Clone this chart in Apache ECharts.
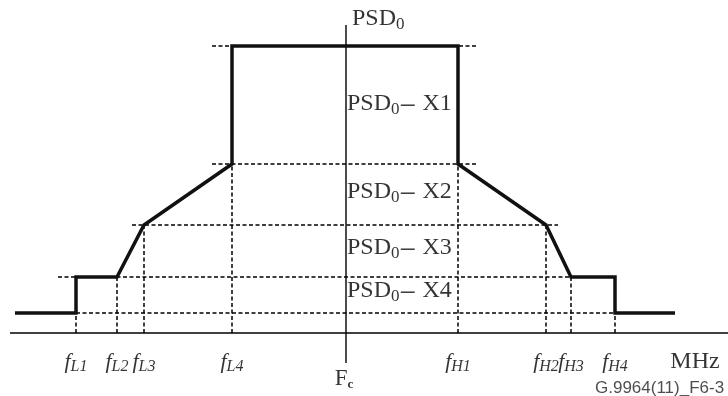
<!DOCTYPE html>
<html>
<head>
<meta charset="utf-8">
<script src="https://cdn.jsdelivr.net/npm/echarts@6/dist/echarts.min.js"></script>
<style>
html,body{margin:0;padding:0;background:#fff;}
#chart{width:728px;height:396px;}
</style>
</head>
<body>
<div id="chart"></div>
<script>
// frequencies relative to Fc, levels above the baseline (diagram units)
var freqNames = ['L1','L2','L3','L4','H1','H2','H3','H4'];
var freqs = [-270,-229,-202,-114,112,200,225,269];
var freqLevels = [20,56,108,169,169,108,56,20];

// PSD mask outline
var maskFreq = [-331,-270,-270,-229,-202,-114,-114,112,112,200,225,269,269,329];
var maskLevel = [20,20,56,56,108,169,287,287,169,108,56,56,20,20];

// dotted guide levels
var guideLevel = [287,169,108,56,20];
var guideFrom = [-134,-134,-214,-288,-270];
var guideTo = [132,132,212,226,268];

// band labels
var bandNames = ['X1','X2','X3','X4'];
var bandLevel = [228,140,84,41];

var serif = '"Liberation Serif", "DejaVu Serif", serif';

function pts(xs, ys){
	var out = [];
	for(var i=0;i<xs.length;i++){
		out.push([xs[i], ys[i]]);
	}
	return out;
}

var psdRich = {
	a:{fontFamily:serif, fontSize:24, color:'#000', lineHeight:26, verticalAlign:'top'},
	s:{fontFamily:serif, fontSize:17, color:'#000', lineHeight:18, verticalAlign:'bottom'},
	d:{fontFamily:serif, fontSize:30, color:'#000', lineHeight:26, verticalAlign:'top'}
};

var series = [];
//基线
series.push({type:'line', data:[[-336,0],[382,0]], symbol:'none', silent:true,
	lineStyle:{color:'#000', width:1.5}});
//中心线
series.push({type:'line', data:[[0,-30],[0,308]], symbol:'none', silent:true,
	lineStyle:{color:'#000', width:1.4}});
//水平虚线
for(var i=0;i<guideLevel.length;i++){
	series.push({type:'line', data:[[guideFrom[i],guideLevel[i]],[guideTo[i],guideLevel[i]]],
		symbol:'none', silent:true,
		lineStyle:{color:'#000', width:1.5, type:[4,2.5]}});
}
//垂直虚线
for(var j=0;j<freqs.length;j++){
	series.push({type:'line', data:[[freqs[j],0],[freqs[j],freqLevels[j]]],
		symbol:'none', silent:true,
		lineStyle:{color:'#000', width:1.5, type:[4,2.5]}});
}
//模板
series.push({type:'line', data:pts(maskFreq, maskLevel), symbol:'none', silent:true,
	lineStyle:{color:'#111', width:3.5, join:'miter'}});

//频率标签
series.push({type:'scatter', symbolSize:0, silent:true,
	data:freqs.map(function(f){ return [f, -30]; }),
	label:{show:true, position:'inside',
		formatter:function(p){ return '{f|f}{s|' + freqNames[p.dataIndex] + '}'; },
		rich:{
			f:{fontFamily:serif, fontStyle:'italic', fontSize:22, color:'#000', lineHeight:24, verticalAlign:'top'},
			s:{fontFamily:serif, fontStyle:'italic', fontSize:16, color:'#000', lineHeight:17, verticalAlign:'bottom'}
		}
	}
});
//电平标签
series.push({type:'scatter', symbolSize:0, silent:true,
	data:bandLevel.map(function(v){ return [1, v]; }),
	label:{show:true, position:'right', distance:0,
		formatter:function(p){ return '{a|PSD}{s|0}{d|\u2212}{a| ' + bandNames[p.dataIndex] + '}'; },
		rich:psdRich
	}
});
//其他文字
series.push({type:'scatter', symbolSize:0, silent:true,
	data:[[6,313]],
	label:{show:true, position:'right', distance:0,
		formatter:'{a|PSD}{s|0}',
		rich:psdRich
	}
});
series.push({type:'scatter', symbolSize:0, silent:true,
	data:[[349,-29]],
	label:{show:true, position:'inside', formatter:'MHz',
		fontFamily:serif, fontSize:24, color:'#000'}
});
series.push({type:'scatter', symbolSize:0, silent:true,
	data:[[-2,-46]],
	label:{show:true, position:'inside',
		formatter:'{F|F}{c|c}',
		rich:{
			F:{fontFamily:serif, fontSize:23, color:'#000', lineHeight:24, verticalAlign:'top'},
			c:{fontFamily:serif, fontSize:13, fontWeight:'bold', color:'#000', lineHeight:12, verticalAlign:'bottom'}
		}
	}
});
series.push({type:'scatter', symbolSize:0, silent:true,
	data:[[249,-55]],
	label:{show:true, position:'right', distance:0, formatter:'G.9964(11)_F6-3',
		fontFamily:'"Liberation Sans", Arial, sans-serif', fontSize:17, color:'#222'}
});

var chart = echarts.init(document.getElementById('chart'));
chart.setOption({
	animation:false,
	backgroundColor:'#fff',
	grid:{left:0, right:0, top:0, bottom:0},
	xAxis:{type:'value', min:-346, max:382, show:false},
	yAxis:{type:'value', min:-63, max:333, show:false},
	series:series
});
</script>
</body>
</html>
